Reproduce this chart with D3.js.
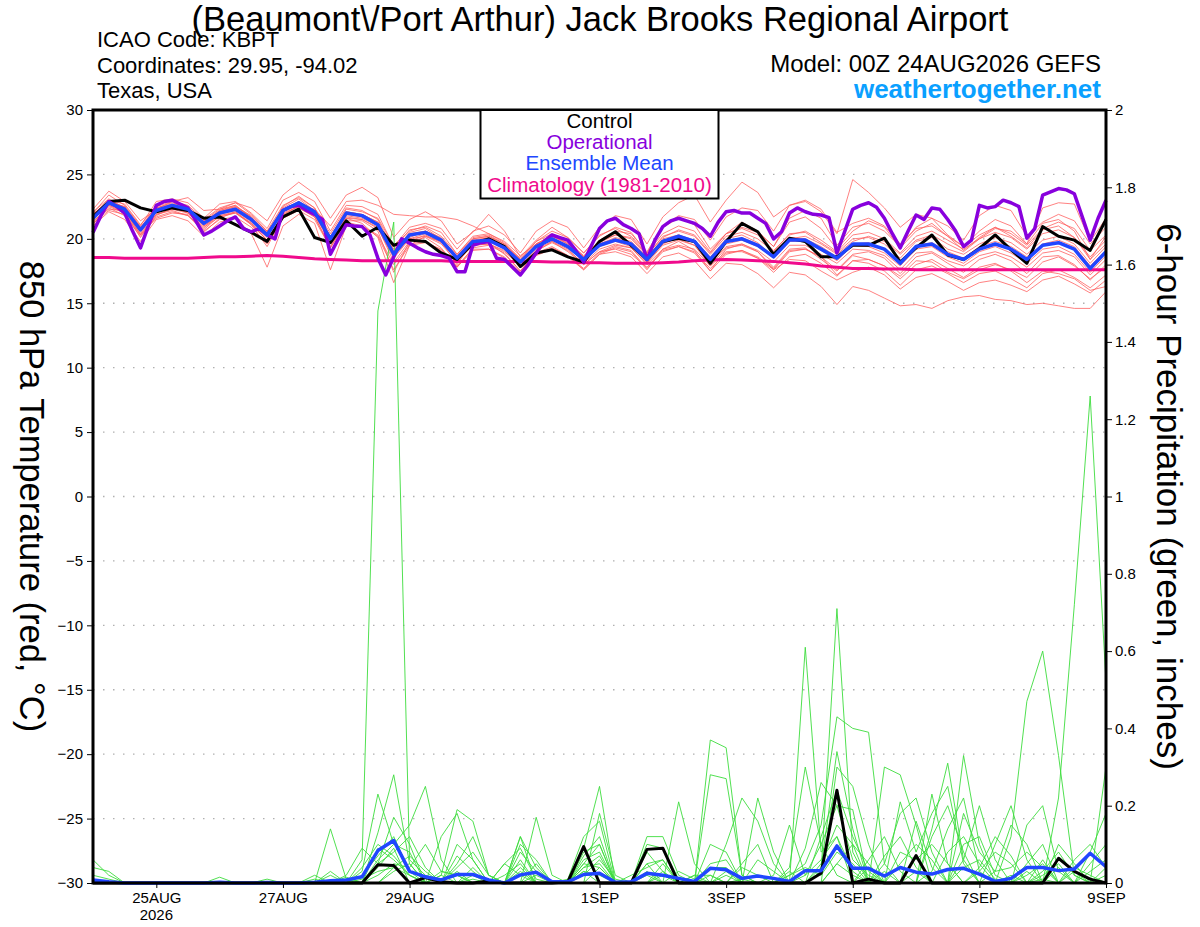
<!DOCTYPE html>
<html>
<head>
<meta charset="utf-8">
<script src="https://cdn.jsdelivr.net/npm/d3@7"></script>
<style>
  body { margin: 0; background: #fff; }
  svg { font-family: "Liberation Sans", Arial, Helvetica, sans-serif; }
  .grid-line { stroke: #b0b0b0; stroke-width: 1.3; stroke-dasharray: 1.5 8.5; }
  .tick text { font-size: 15px; fill: #000; }
  .tick line { stroke: #000; stroke-width: 1; }
  .member-t { fill: none; stroke: #ff5a5a; stroke-width: 0.9; opacity: 0.85; }
  .member-p { fill: none; stroke: #3ddc3d; stroke-width: 0.9; }
</style>
</head>
<body>
<div id="wrapper"></div>
<script>

// 1. Data

const runStart = Date.UTC(2026, 7, 24, 0);   // 00Z 24AUG2026
const runEnd = Date.UTC(2026, 8, 9, 0);      // 00Z 09SEP2026

const tickDates = [Date.UTC(2026,7,25), Date.UTC(2026,7,27), Date.UTC(2026,7,29), Date.UTC(2026,8,1),
                   Date.UTC(2026,8,3), Date.UTC(2026,8,5), Date.UTC(2026,8,7), Date.UTC(2026,8,9)];
const tickLabels = ["25AUG", "27AUG", "29AUG", "1SEP", "3SEP", "5SEP", "7SEP", "9SEP"];
const tempTicks = [-30, -25, -20, -15, -10, -5, 0, 5, 10, 15, 20, 25, 30];
const precipTicks = [0, 0.2, 0.4, 0.6, 0.8, 1, 1.2, 1.4, 1.6, 1.8, 2];
const precipTickLabels = ["0", "0.2", "0.4", "0.6", "0.8", "1", "1.2", "1.4", "1.6", "1.8", "2"];

// 850 hPa temperature, 6-hourly
const tempControl = [21.7,22.9,23.0,22.4,22.1,22.4,22.2,21.6,21.7,21.1,
  20.5,19.8,21.7,22.3,20.1,19.7,21.4,20.2,20.9,19.5,
  19.9,19.8,18.9,18.4,19.65,20.0,19.4,17.85,18.9,19.15,
  18.6,18.2,19.8,20.55,19.5,18.4,19.8,20.05,19.8,18.1,
  19.8,21.2,20.55,18.8,20.05,19.8,18.6,18.6,19.5,19.5,
  20.05,18.2,19.3,20.3,18.75,18.4,19.25,20.3,19.15,18.1,
  20.95,20.2,19.9,19.1,21.5];

const tempMean = [21.6,22.8,22.3,20.7,22.2,22.6,22.3,21.2,22.0,22.3,
  21.5,20.3,22.2,22.8,22.1,20.0,22.0,21.8,21.1,18.8,
  20.3,20.5,19.9,18.5,19.8,19.9,19.3,18.2,19.4,20.0,
  19.4,18.4,19.5,19.9,19.6,18.4,19.8,20.2,19.8,18.4,
  19.8,20.0,19.5,18.6,19.9,19.9,19.2,18.5,19.6,19.6,
  19.2,18.1,19.4,19.6,18.8,18.4,19.2,19.6,19.2,18.4,
  19.5,19.7,19.2,17.7,19.0];

const tempClim = [18.55,18.55,18.5,18.5,18.5,18.5,18.5,18.55,18.6,18.6,
  18.65,18.7,18.65,18.55,18.45,18.4,18.35,18.3,18.3,18.3,
  18.3,18.3,18.3,18.25,18.25,18.25,18.25,18.25,18.25,18.2,
  18.2,18.15,18.15,18.1,18.1,18.1,18.15,18.2,18.3,18.35,
  18.4,18.35,18.3,18.25,18.15,18.05,17.9,17.8,17.7,17.7,
  17.65,17.65,17.6,17.6,17.6,17.6,17.6,17.6,17.6,17.6,
  17.6,17.6,17.6,17.6,17.6];

// operational run, 3-hourly
const tempOper = [20.5,21.8,22.9,22.5,22.0,20.6,19.3,21.0,22.6,22.9,
  23.0,22.7,22.4,21.4,20.3,20.6,21.0,21.4,21.7,20.8,
  20.55,20.8,20.3,20.0,22.2,22.5,22.6,22.2,21.9,21.5,
  18.8,20.0,21.1,21.0,20.95,20.3,18.5,17.2,18.6,20.0,
  19.65,19.3,19.0,18.8,18.7,18.5,17.45,17.45,19.5,19.7,
  19.8,18.5,18.4,17.8,17.2,18.0,18.9,19.8,20.3,20.1,
  19.9,19.1,18.2,19.5,20.8,21.4,21.6,21.1,20.8,20.4,
  18.4,19.9,20.95,21.4,21.6,21.4,21.2,20.8,20.2,21.3,
  22.1,22.2,22.0,22.0,21.6,21.2,20.0,20.55,22.0,22.4,
  22.1,21.9,21.85,21.65,18.9,20.6,22.3,22.6,22.8,22.45,
  21.6,20.4,19.3,20.6,21.85,21.5,22.4,22.3,21.5,20.6,
  19.4,19.9,22.6,22.4,22.5,23.0,22.8,22.5,20.05,20.8,
  23.4,23.65,23.9,23.8,23.5,21.7,19.9,21.6,23.0];

const tempM01 = [22.0,23.4,22.6,21.0,22.9,23.1,22.8,21.6,22.7,22.9,22.0,20.8,23.0,23.6,22.9,20.6,
  22.6,22.5,21.9,19.4,20.9,21.2,20.8,19.2,20.6,21.0,20.3,18.9,20.6,21.4,20.9,19.3,
  20.9,21.8,21.5,19.6,21.7,22.8,23.4,21.3,23.0,24.4,23.6,21.7,22.6,22.9,22.1,20.4,
  24.6,23.6,22.4,20.9,21.9,21.6,20.3,19.4,20.6,21.5,21.0,19.6,21.2,21.5,20.6,18.4,20.2];
const tempM02 = [21.2,22.4,21.8,20.2,21.7,22.1,21.8,20.6,21.5,21.7,20.9,19.6,21.6,22.2,21.5,19.3,
  21.3,21.0,20.3,18.0,19.6,19.8,19.1,17.8,19.1,19.2,18.5,17.4,18.7,19.2,18.6,17.6,
  18.8,19.0,18.6,17.3,18.6,18.9,18.3,16.9,18.1,18.0,17.3,16.2,17.4,17.2,16.3,14.9,
  16.3,16.0,15.4,14.8,14.9,14.6,15.2,15.5,15.6,15.3,15.2,14.9,15.0,14.8,14.6,14.6,15.9];
const tempM03 = [21.9,23.0,22.7,21.1,22.5,22.9,22.6,21.5,22.4,22.8,21.9,20.6,22.6,23.2,22.4,20.4,
  22.4,22.2,21.5,19.2,20.7,20.9,20.2,18.8,20.1,20.3,19.6,18.5,19.8,20.4,19.8,18.7,
  19.8,20.3,20.0,18.7,20.2,20.6,20.2,18.8,20.2,20.5,20.0,19.0,20.4,20.5,19.7,18.9,
  20.0,20.1,19.6,18.5,19.8,20.1,19.2,18.8,19.6,20.1,19.7,18.8,19.9,20.2,19.6,18.1,19.4];
const tempM04 = [21.3,22.5,22.0,20.4,21.9,22.3,22.0,20.9,21.7,22.0,21.2,19.9,21.9,22.5,21.8,19.7,
  21.7,21.5,20.8,18.5,20.0,20.2,19.6,18.2,19.5,19.6,19.0,17.9,19.1,19.7,19.1,18.1,
  19.2,19.6,19.3,18.1,19.5,19.9,19.5,18.1,19.4,19.6,19.1,18.2,19.5,19.5,18.8,18.1,
  19.2,19.1,18.7,17.6,18.9,19.0,18.3,17.9,18.7,19.0,18.6,17.8,18.9,19.1,18.6,17.2,18.4];
const tempM05 = [22.3,23.7,22.9,21.4,22.3,22.9,23.2,22.2,22.3,22.8,22.4,21.4,23.4,24.4,23.5,21.6,
  23.4,24.0,23.2,20.1,21.5,22.1,21.4,19.6,20.5,21.9,20.6,18.6,19.9,20.9,20.1,18.9,
  20.3,20.8,20.2,18.9,20.9,21.6,21.1,19.2,20.4,21.3,20.6,19.4,21.3,21.7,20.8,19.2,
  20.6,21.4,20.9,19.3,20.6,21.2,20.2,19.1,20.1,20.9,20.2,19.3,20.7,21.0,20.1,18.6,19.9];
const tempM06 = [21.0,22.1,21.5,19.8,21.5,21.8,21.4,20.2,21.3,21.6,20.4,17.8,21.0,21.9,21.2,17.6,
  21.0,21.0,20.2,17.6,19.5,19.7,19.2,17.9,19.2,19.2,18.6,17.3,18.8,19.3,18.7,17.6,
  18.8,19.3,19.0,17.6,19.2,19.8,19.1,17.5,19.2,19.6,19.0,17.8,19.2,19.3,18.4,17.5,
  18.7,18.4,17.9,17.1,18.3,18.2,17.4,16.9,17.6,18.0,17.6,17.0,18.2,18.6,17.9,16.9,17.8];
const tempM07 = [21.8,22.8,22.5,20.9,22.1,22.4,22.2,21.3,22.1,22.5,21.8,20.6,22.0,22.5,22.3,21.0,
  22.9,23.0,22.6,21.9,21.8,21.7,21.7,21.5,21.0,20.4,19.8,18.7,19.6,20.2,19.7,18.6,
  19.6,20.1,19.8,18.6,20.0,20.3,19.9,18.6,20.0,20.3,19.7,18.6,20.1,20.0,19.4,18.6,
  19.6,19.7,19.1,18.2,19.5,19.7,19.0,18.5,19.4,19.8,19.4,18.6,19.6,19.9,19.4,17.9,19.1];
const tempM08 = [21.5,22.7,22.1,20.5,22.1,22.6,22.2,21.0,21.9,22.2,21.3,20.1,22.1,22.9,22.0,19.8,
  21.6,21.2,20.1,16.6,19.5,20.2,19.8,18.0,19.8,20.1,19.3,17.9,19.6,20.3,19.6,18.3,
  19.5,20.0,19.6,18.2,19.7,20.0,19.5,17.9,19.3,19.5,19.0,17.6,19.0,19.2,18.6,17.6,
  18.8,19.0,18.5,17.3,18.6,18.9,18.1,17.4,18.4,18.8,18.3,17.3,18.6,18.7,18.0,16.8,18.0];
const tempM09 = [22.1,23.1,22.4,20.8,22.6,23.0,22.5,21.2,22.2,22.6,21.7,20.3,22.4,23.1,22.2,20.2,
  22.1,21.9,21.3,19.0,20.5,20.8,20.0,18.6,20.0,20.2,19.6,18.3,19.6,20.2,19.8,18.6,
  19.9,20.6,20.4,19.0,21.0,21.8,21.5,19.9,21.7,22.4,22.2,20.6,22.6,23.0,22.3,20.5,
  21.2,21.6,21.0,19.6,20.8,21.0,20.2,19.4,20.3,20.9,20.4,19.5,20.8,21.3,20.8,19.1,20.3];
const tempM10 = [21.4,22.3,22.2,20.3,21.6,22.0,21.9,20.5,21.6,22.1,21.1,19.4,21.6,22.4,21.7,19.3,
  21.4,21.4,20.6,17.4,19.8,20.3,19.7,18.4,19.6,19.7,18.8,17.5,19.0,19.8,19.2,18.0,
  19.0,19.2,18.8,17.8,19.1,19.4,19.0,17.7,18.9,19.1,18.6,17.7,19.1,19.2,18.6,17.2,
  18.3,18.1,17.5,16.4,17.6,17.9,17.3,16.6,17.3,17.5,16.9,16.2,17.3,17.6,17.0,16.2,17.2];
const tempM11 = [21.7,22.9,22.3,20.6,22.4,22.8,22.4,21.4,22.3,22.6,21.6,20.4,22.5,23.3,22.4,20.1,
  22.3,22.1,21.6,19.5,20.6,21.0,20.5,18.8,20.2,20.4,19.7,18.4,19.5,19.9,19.3,18.3,
  19.7,20.3,20.1,18.8,20.1,20.7,20.3,18.9,20.4,20.8,20.3,19.1,20.3,20.6,19.9,19.0,
  20.3,20.5,20.0,18.9,20.2,20.6,19.9,19.2,20.0,20.5,20.1,19.2,20.4,20.7,20.1,18.4,19.6];
const tempM12 = [21.1,22.6,22.0,20.1,21.8,22.4,22.1,21.0,21.8,22.0,21.1,19.9,21.8,22.6,21.9,19.8,
  21.8,21.6,21.0,18.8,20.0,20.4,19.8,18.4,19.5,19.6,19.1,17.9,19.2,19.8,19.0,18.0,
  19.0,19.5,19.3,18.0,19.2,19.5,19.2,17.9,19.0,19.0,18.5,17.6,18.4,18.3,17.5,16.8,
  17.4,17.8,17.2,16.1,17.0,17.3,16.7,16.0,16.6,16.8,16.4,15.9,16.8,17.1,16.5,15.8,16.8];
const tempM13 = [22.0,22.6,22.2,20.8,22.0,22.5,22.4,21.4,22.1,22.4,21.6,20.5,22.2,22.8,22.0,20.1,
  21.9,21.7,21.2,19.0,20.3,20.6,20.1,18.6,19.9,20.1,19.4,18.2,19.6,20.2,19.6,18.6,
  19.6,20.0,19.7,18.4,19.8,20.3,19.8,18.5,19.8,20.1,19.6,18.7,20.0,20.2,19.6,18.8,
  19.8,20.2,19.8,18.8,19.9,20.3,19.6,19.0,20.0,20.8,20.6,19.6,22.4,22.8,22.7,19.8,21.6];
const tempM14 = [21.6,23.0,22.4,20.6,22.2,22.5,22.0,20.8,22.0,22.4,21.5,20.2,22.1,22.6,21.9,19.9,
  21.9,21.8,21.1,18.6,20.1,20.6,20.0,18.5,19.8,20.0,19.4,18.1,19.5,20.1,19.5,18.4,
  19.4,19.8,19.4,18.2,19.6,20.1,19.7,18.3,19.6,19.9,19.4,18.5,19.8,19.8,19.1,18.3,
  19.5,19.4,18.9,17.9,19.2,19.4,18.6,18.1,19.0,19.4,18.9,18.1,19.2,19.4,18.8,17.4,18.7];
const tempM15 = [21.9,22.9,22.5,20.9,22.4,22.7,22.5,21.3,22.2,22.5,21.7,20.5,22.3,22.9,22.2,20.2,
  22.1,21.9,21.3,19.1,20.4,20.6,20.0,18.7,20.0,20.2,19.5,18.4,19.8,20.6,20.1,18.9,
  20.2,20.9,20.5,18.9,20.4,21.0,20.6,19.0,20.4,20.9,20.5,19.4,21.6,22.2,21.6,19.5,
  20.9,21.2,20.6,19.4,20.9,21.6,21.0,19.9,21.8,22.6,22.2,20.2,21.3,21.9,21.4,19.6,20.9];
const tempM16 = [21.2,22.2,21.9,20.3,21.9,22.2,21.8,20.7,21.8,22.1,21.2,19.9,21.7,22.4,21.7,19.4,
  21.6,21.5,20.9,18.2,19.8,20.1,19.3,17.8,19.3,19.5,18.9,17.5,18.9,19.4,18.7,17.7,
  18.9,19.4,19.1,17.7,19.0,19.4,18.9,17.5,18.8,19.1,18.5,17.4,18.6,18.8,18.1,17.1,
  18.3,18.4,17.9,16.9,18.0,18.4,17.7,17.0,17.8,18.1,17.5,16.6,17.5,17.3,16.9,16.0,16.3];

const tempMembers = [tempM01, tempM02, tempM03, tempM04, tempM05, tempM06, tempM07, tempM08,
                     tempM09, tempM10, tempM11, tempM12, tempM13, tempM14, tempM15, tempM16];

// 6-hour precipitation (inches)
const precipControl = [0,0,0,0,0,0,0,0,0,0,
  0,0,0,0,0,0,0,0,0.047,0.045,
  0,0.014,0.003,0,0,0.005,0,0,0,0,
  0.003,0.094,0,0,0,0.087,0.09,0,0,0,
  0,0,0,0,0,0,0.025,0.24,0,0.01,
  0,0,0.071,0,0,0,0,0,0,0,
  0,0.064,0.03,0.01,0];

const precipMean = [0.008,0.003,0,0,0,0,0,0,0.002,0,
  0,0.001,0,0,0.002,0.006,0.008,0.016,0.084,0.11,
  0.03,0.016,0.008,0.022,0.022,0.008,0,0.021,0.028,0.003,
  0.003,0.022,0.025,0.002,0.003,0.025,0.02,0.012,0.004,0.038,
  0.034,0.012,0.018,0.012,0.004,0.032,0.032,0.096,0.038,0.038,
  0.018,0.04,0.028,0.023,0.035,0.038,0.023,0.004,0.012,0.04,
  0.04,0.032,0.036,0.077,0.042];

const precipM01 = [0.06,0.02,0,0,0,0,0,0,0,0, 0,0,0,0,0,0,0,0.06,1.48,1.71,
  0.06,0.02,0,0,0,0,0.05,0.02,0,0, 0,0.03,0,0,0,0.02,0,0,0,0,
  0,0,0,0,0,0,0,0.05,0.02,0, 0,0,0.03,0,0,0,0,0,0,0, 0.01,0,0,0,0];
const precipM02 = [0.04,0.03,0,0,0,0,0,0,0,0, 0,0,0,0,0,0.14,0.01,0,0.13,0.28,
  0.05,0,0.02,0.19,0.16,0.02,0,0,0,0, 0,0.09,0.25,0,0,0,0,0.21,0.05,0,
  0,0,0,0,0,0.61,0.08,0.12,0,0.04, 0,0,0,0.23,0.05,0,0,0,0,0.15, 0.2,0.03,0,0,0];
const precipM03 = [0,0,0,0,0,0,0,0,0,0, 0,0,0,0,0,0,0,0.03,0.23,0.1,
  0.15,0.25,0.06,0,0,0,0,0,0.17,0.02, 0,0,0.18,0.02,0,0,0,0,0,0.37,
  0.35,0.02,0,0,0,0,0.03,0.71,0.08,0, 0.03,0,0,0,0,0.33,0.1,0,0,0, 0,0.22,0.72,1.26,0.52];
const precipM04 = [0,0,0,0,0,0,0,0,0,0, 0,0,0,0,0.01,0,0,0.02,0.07,0.12,
  0.03,0,0,0.1,0.06,0,0,0.12,0.04,0, 0,0.07,0.12,0,0,0,0.05,0,0,0.28,
  0.27,0.02,0,0,0.02,0.05,0.15,0.43,0.4,0.39, 0.05,0,0,0.14,0.31,0.06,0,0,0.12,0.47, 0.6,0.33,0.02,0,0];
const precipM05 = [0.02,0.01,0,0,0,0,0,0,0,0, 0,0,0,0,0,0.03,0,0,0.05,0.17,
  0.1,0,0.12,0.18,0.06,0,0,0.12,0,0, 0.01,0.12,0.16,0,0,0.05,0.06,0,0.02,0,
  0.1,0.22,0.16,0.05,0,0,0.04,0.34,0.14,0, 0,0.21,0.08,0.18,0.25,0.05,0,0.03,0.15,0.1, 0,0,0,0.08,0.18];
const precipM06 = [0,0,0,0,0,0,0,0,0,0, 0,0,0,0,0,0,0.02,0.09,0.05,0.08,
  0.12,0.04,0,0,0.02,0,0,0.1,0.06,0, 0,0.06,0.08,0,0,0.12,0.12,0.02,0,0,
  0,0,0.22,0.08,0,0.09,0.26,0.2,0.19,0, 0.3,0.28,0.15,0,0,0.1,0.12,0.02,0,0.05, 0.1,0,0,0,0.3];
const precipM07 = [0,0,0,0,0,0,0,0,0,0, 0,0,0,0,0.02,0,0,0,0.09,0.06,
  0.02,0,0,0.04,0.08,0.02,0,0,0.05,0, 0,0.04,0.05,0,0.02,0.04,0.06,0,0,0.05,
  0.06,0,0.06,0.03,0,0,0,0.3,0.25,0.1, 0,0.08,0.06,0.1,0.05,0,0.03,0.08,0.05,0, 0.03,0.08,0.02,0,0];
const precipM08 = [0,0,0,0,0,0,0,0,0,0, 0,0,0,0,0,0,0,0,0,0.04,
  0.07,0.03,0,0.07,0.03,0,0.02,0.05,0,0, 0,0.05,0.04,0,0,0,0,0.03,0.01,0,
  0.03,0,0,0,0.02,0.04,0.02,0.08,0.05,0, 0.07,0.12,0.04,0,0.08,0.12,0.05,0,0,0.02, 0.05,0,0.04,0.02,0];
const precipM09 = [0,0,0,0,0,0,0,0,0.015,0, 0,0.01,0,0,0,0,0,0.01,0.03,0.04,
  0.02,0,0.02,0,0.01,0,0,0.03,0,0, 0,0.02,0.06,0.01,0,0,0.03,0,0.02,0.02,
  0,0.01,0,0,0,0.02,0.06,0.12,0.03,0, 0,0.05,0.1,0.06,0,0.04,0.06,0.01,0,0, 0.02,0.05,0,0,0.04];
const precipM10 = [0,0,0,0,0,0,0,0,0,0, 0,0,0,0,0,0,0,0,0.02,0.05,
  0.04,0.1,0.03,0.02,0,0,0,0.08,0.03,0, 0,0.03,0.02,0,0,0.08,0.03,0,0,0,
  0.02,0,0,0.02,0.15,0.02,0.1,0.2,0.06,0.02, 0,0,0.16,0.04,0,0.18,0.08,0.03,0.04,0.08, 0.04,0,0,0.03,0.06];
const precipM11 = [0,0,0,0,0,0,0,0,0,0, 0,0,0,0,0,0,0.015,0,0.06,0.1,
  0.08,0,0,0.05,0.12,0.02,0,0.04,0,0, 0,0.08,0.1,0,0,0.03,0,0,0,0.02,
  0,0.04,0.02,0,0,0,0,0.05,0.1,0.05, 0,0,0,0.03,0.14,0.22,0.03,0,0.02,0, 0.06,0,0.03,0,0];
const precipM12 = [0,0,0,0,0,0,0,0,0,0, 0,0,0,0,0,0.02,0,0.04,0.1,0.07,
  0.02,0,0.03,0.02,0,0,0.05,0.09,0.01,0, 0,0.05,0.1,0,0,0.1,0.09,0.01,0,0.04,
  0.04,0,0,0,0.04,0.3,0.1,0.02,0,0.06, 0.12,0.03,0,0,0,0,0.04,0.12,0.07,0, 0,0.1,0.05,0,0.02];
const precipM13 = [0,0,0,0,0,0,0,0,0,0, 0,0,0,0,0,0,0,0,0,0.03,
  0.05,0,0,0,0.04,0,0,0.06,0,0, 0,0,0.04,0,0,0,0.02,0,0,0,
  0,0.05,0.1,0,0,0,0.05,0.15,0.1,0, 0.05,0.18,0.22,0.08,0,0.06,0.2,0.06,0,0.03, 0,0,0.06,0.1,0.04];
const precipM14 = [0,0,0,0,0,0,0,0,0,0, 0,0,0,0,0,0,0,0,0.04,0.09,
  0,0,0,0.03,0,0,0,0,0.02,0, 0,0.04,0.07,0,0,0.05,0,0,0,0.1,
  0.08,0,0,0,0.03,0,0.12,0.24,0.12,0.03, 0,0,0,0.12,0.2,0.08,0,0.1,0.2,0.06, 0,0.04,0,0.05,0.1];

const precipMembers = [precipM01, precipM02, precipM03, precipM04, precipM05, precipM06, precipM07,
                       precipM08, precipM09, precipM10, precipM11, precipM12, precipM13, precipM14];

async function drawMeteogram() {

    // 2. Chart dimensions

    let dimensions = {
        width: 1200,
        height: 927,
        margin: {
            top: 110,
            right: 94,
            bottom: 44,
            left: 93,
        },
    }
    dimensions.boundedWidth = dimensions.width - dimensions.margin.left - dimensions.margin.right
    dimensions.boundedHeight = dimensions.height - dimensions.margin.top - dimensions.margin.bottom

    // 3. Canvas

    const wrapper = d3.select("#wrapper")
        .append("svg")
        .attr("width", dimensions.width)
        .attr("height", dimensions.height)

    const bounds = wrapper.append("g")
        .attr("transform", `translate(${dimensions.margin.left}, ${dimensions.margin.top})`)

    // 4. Scales

    const xScale = d3.scaleUtc()
        .domain([runStart, runEnd])
        .range([0, dimensions.boundedWidth])

    const tempScale = d3.scaleLinear()
        .domain([-30, 30])
        .range([dimensions.boundedHeight, 0])

    const precipScale = d3.scaleLinear()
        .domain([0, 2])
        .range([dimensions.boundedHeight, 0])

    const timeAt = hours => i => new Date(runStart + i * hours * 3600 * 1000)
    const tempLine = hours => d3.line()
        .x((d, i) => xScale(timeAt(hours)(i)))
        .y(d => tempScale(d))
    const precipLine = d3.line()
        .x((d, i) => xScale(timeAt(6)(i)))
        .y(d => precipScale(d))

    // 5. Peripherals first (grid)

    bounds.append("g")
        .selectAll("line")
        .data(tempTicks.filter(t => t > -30 && t < 30))
        .join("line")
        .attr("class", "grid-line")
        .attr("x1", 0)
        .attr("x2", dimensions.boundedWidth)
        .attr("y1", d => tempScale(d))
        .attr("y2", d => tempScale(d))

    // 6. Data

    bounds.append("g")
        .selectAll("path")
        .data(tempMembers)
        .join("path")
        .attr("class", "member-t")
        .attr("d", tempLine(6))

    bounds.append("g")
        .selectAll("path")
        .data(precipMembers)
        .join("path")
        .attr("class", "member-p")
        .attr("d", precipLine)

    bounds.append("path")
        .datum(tempClim)
        .attr("fill", "none")
        .attr("stroke", "#f00a8c")
        .attr("stroke-width", 3)
        .attr("d", tempLine(6))

    bounds.append("path")
        .datum(tempControl)
        .attr("fill", "none")
        .attr("stroke", "#000")
        .attr("stroke-width", 3)
        .attr("stroke-linejoin", "round")
        .attr("d", tempLine(6))

    bounds.append("path")
        .datum(tempOper)
        .attr("fill", "none")
        .attr("stroke", "#8800dd")
        .attr("stroke-width", 3.5)
        .attr("stroke-linejoin", "round")
        .attr("d", tempLine(3))

    bounds.append("path")
        .datum(tempMean)
        .attr("fill", "none")
        .attr("stroke", "#2046ff")
        .attr("stroke-width", 3.5)
        .attr("stroke-linejoin", "round")
        .attr("d", tempLine(6))

    bounds.append("path")
        .datum(precipControl)
        .attr("fill", "none")
        .attr("stroke", "#000")
        .attr("stroke-width", 3)
        .attr("stroke-linejoin", "round")
        .attr("d", precipLine)

    bounds.append("path")
        .datum(precipMean)
        .attr("fill", "none")
        .attr("stroke", "#2046ff")
        .attr("stroke-width", 3.5)
        .attr("stroke-linejoin", "round")
        .attr("d", precipLine)

    // 7. Axes

    const xAxis = d3.axisBottom(xScale)
        .tickValues(tickDates)
        .tickFormat((d, i) => tickLabels[i])
        .tickSize(5)
        .tickPadding(4)
    bounds.append("g")
        .attr("transform", `translate(0, ${dimensions.boundedHeight})`)
        .call(xAxis)
        .call(g => g.select(".domain").remove())

    bounds.append("text")
        .attr("x", xScale(tickDates[0]))
        .attr("y", dimensions.boundedHeight + 37)
        .attr("text-anchor", "middle")
        .style("font-size", "15px")
        .text("2026")

    const tempAxis = d3.axisLeft(tempScale)
        .tickValues(tempTicks)
        .tickSize(6)
        .tickPadding(4)
    bounds.append("g")
        .call(tempAxis)
        .call(g => g.select(".domain").remove())

    const precipAxis = d3.axisRight(precipScale)
        .tickValues(precipTicks)
        .tickFormat((d, i) => precipTickLabels[i])
        .tickSize(6)
        .tickPadding(3)
    bounds.append("g")
        .attr("transform", `translate(${dimensions.boundedWidth}, 0)`)
        .call(precipAxis)
        .call(g => g.select(".domain").remove())

    // frame
    bounds.append("rect")
        .attr("width", dimensions.boundedWidth)
        .attr("height", dimensions.boundedHeight)
        .attr("fill", "none")
        .attr("stroke", "#000")
        .attr("stroke-width", 3)

    // legend
    const legend = bounds.append("g")
        .attr("transform", `translate(${dimensions.boundedWidth / 2 - 119}, 0)`)
    legend.append("rect")
        .attr("width", 238)
        .attr("height", 88.5)
        .attr("fill", "#fff")
        .attr("stroke", "#000")
        .attr("stroke-width", 2)
    const legendItems = [
        { label: "Control", color: "#000" },
        { label: "Operational", color: "#8800dd" },
        { label: "Ensemble Mean", color: "#2046ff" },
        { label: "Climatology (1981-2010)", color: "#f00a8c" },
    ]
    legend.selectAll("text")
        .data(legendItems)
        .join("text")
        .attr("x", 119)
        .attr("y", (d, i) => 17.5 + i * 21.4)
        .attr("text-anchor", "middle")
        .style("font-size", "20.5px")
        .attr("fill", d => d.color)
        .text(d => d.label)

    // axis titles
    wrapper.append("text")
        .attr("transform", `translate(20, ${dimensions.margin.top + dimensions.boundedHeight / 2}) rotate(90)`)
        .attr("text-anchor", "middle")
        .style("font-size", "34.5px")
        .text("850 hPa Temperature (red, °C)")

    wrapper.append("text")
        .attr("transform", `translate(1157, ${dimensions.margin.top + dimensions.boundedHeight / 2}) rotate(90)`)
        .attr("text-anchor", "middle")
        .style("font-size", "35px")
        .text("6-hour Precipitation (green, inches)")

    // header
    wrapper.append("text")
        .attr("x", 600)
        .attr("y", 31)
        .attr("text-anchor", "middle")
        .style("font-size", "34.5px")
        .text("(Beaumont\\/Port Arthur) Jack Brooks Regional Airport")

    const leftHeader = ["ICAO Code: KBPT", "Coordinates: 29.95, -94.02", "Texas, USA"]
    wrapper.append("g")
        .selectAll("text")
        .data(leftHeader)
        .join("text")
        .attr("x", 97)
        .attr("y", (d, i) => 47 + i * 25.5)
        .style("font-size", "22px")
        .text(d => d)

    wrapper.append("text")
        .attr("x", 1101)
        .attr("y", 72)
        .attr("text-anchor", "end")
        .style("font-size", "24px")
        .text("Model: 00Z 24AUG2026 GEFS")

    wrapper.append("text")
        .attr("x", 1101)
        .attr("y", 98)
        .attr("text-anchor", "end")
        .style("font-size", "26px")
        .style("font-weight", "bold")
        .attr("fill", "#0aa0ff")
        .text("weathertogether.net")
}

drawMeteogram();
</script>
</body>
</html>
